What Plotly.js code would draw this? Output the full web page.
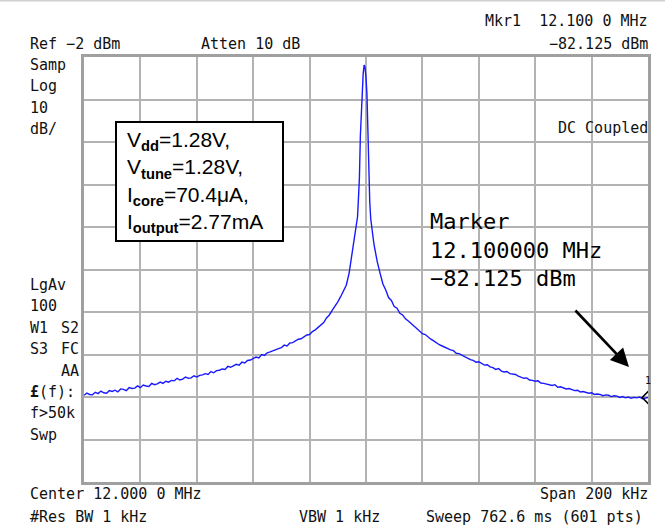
<!DOCTYPE html>
<html>
<head>
<meta charset="utf-8">
<script src="https://cdn.plot.ly/plotly-3.0.1.min.js"></script>
<style>html,body{margin:0;padding:0;background:#fff;}#chart{width:665px;height:526px;}</style>
</head>
<body>
<div id="chart"></div>
<script>
// ---- data ----
const centerMHz = 12.0;
const spanKHz = 200;
const refLevelDBm = -2;
const dbPerDiv = 10;

const freqOffsetKHz = [
  -100,-99,-98,-97,-96,-95,-94,-93,-92,-91,
  -90,-89,-88,-87,-86,-85,-84,-83,-82,-81,
  -80,-79,-78,-77,-76,-75,-74,-73,-72,-71,
  -70,-69,-68,-67,-66,-65,-64,-63,-62,-61,
  -60,-59,-58,-57,-56,-55,-54,-53,-52,-51,
  -50,-49,-48,-47,-46,-45,-44,-43,-42,-41,
  -40,-39,-38,-37,-36,-35,-34,-33,-32,-31,
  -30,-29,-28,-27,-26,-25,-24,-23,-22,-21,
  -20,-19,-18,-17,-16,-15,-14,-13,-12,-11,
  -10,-9,-8,-7,-6,-5,-4,
  -3.67,-3.33,-3,-2.67,-2.33,-2,-1.67,-1.33,-1,-0.67,-0.33,0,
  0.33,0.67,1,1.33,1.67,2,2.33,2.67,3,3.33,3.67,4,
  5,6,7,8,9,10,11,12,13,14,
  15,16,17,18,19,20,21,22,23,24,
  25,26,27,28,29,30,31,32,33,34,
  35,36,37,38,39,40,41,42,43,44,
  45,46,47,48,49,50,51,52,53,54,
  55,56,57,58,59,60,61,62,63,64,
  65,66,67,68,69,70,71,72,73,74,
  75,76,77,78,79,80,81,82,83,84,
  85,86,87,88,89,90,91,92,93,94,
  95,96,97,98,99,100
];
const levelDBm = [
  -81.6,-81.1,-81.4,-81.5,-80.9,-81.2,-80.6,-81.0,-81.1,-80.5,
  -80.7,-80.4,-80.8,-80.1,-80.2,-80.5,-79.8,-80.0,-79.9,-79.4,
  -79.8,-79.2,-79.4,-79.5,-78.8,-79.1,-78.9,-78.5,-78.8,-78.3,
  -78.5,-78.1,-78.2,-77.6,-78.0,-77.8,-77.3,-77.6,-77.5,-77.0,
  -77.3,-76.9,-76.8,-76.5,-76.7,-76.0,-76.3,-75.8,-75.7,-75.4,
  -75.5,-74.8,-75.0,-74.6,-74.3,-74.5,-73.8,-74.0,-73.4,-73.3,
  -73.0,-72.6,-72.8,-72.0,-72.2,-71.6,-71.4,-71.1,-70.9,-70.6,
  -70.4,-69.8,-70.0,-69.3,-69.2,-68.8,-68.4,-68.3,-67.8,-67.4,
  -67.3,-66.6,-66.2,-65.7,-65.0,-64.5,-63.4,-62.7,-61.6,-60.7,
  -59.6,-58.4,-57.2,-55.7,-52.9,-48.4,-44.7,
  -43.0,-41.6,-39.6,-35.2,-30.3,-20.6,-14.1,-9.6,-5.9,-3.9,-4.5,-6.9,
  -10.6,-19.2,-30.2,-36.1,-40.0,-42.3,-43.9,-45.3,-46.7,-47.9,-49.1,-50.2,
  -52.9,-55.4,-56.8,-58.6,-59.3,-60.7,-61.1,-62.3,-62.7,-63.6,
  -64.1,-64.8,-65.3,-65.9,-66.4,-67.1,-67.3,-67.9,-68.4,-68.8,
  -69.3,-69.7,-70.0,-70.3,-70.7,-70.9,-71.1,-71.7,-71.8,-72.2,
  -72.6,-72.9,-73.2,-73.4,-73.8,-73.7,-74.2,-74.5,-74.4,-74.9,
  -75.1,-75.5,-75.3,-75.9,-76.1,-76.0,-76.5,-76.6,-76.7,-77.1,
  -77.3,-77.6,-77.5,-78.0,-78.1,-78.3,-78.2,-78.7,-78.8,-79.0,
  -79.1,-79.3,-79.1,-79.7,-79.6,-79.9,-80.1,-80.0,-80.3,-80.5,
  -80.4,-80.8,-80.7,-80.9,-81.1,-81.0,-81.4,-81.3,-81.4,-81.7,
  -81.5,-81.6,-81.9,-81.7,-81.8,-82.1,-81.9,-82.2,-82.0,-82.3,
  -82.1,-82.2,-82.0,-82.4,-82.2,-82.125
];
const markerFreqMHz = [12.1];
const markerLevelDBm = [-82.125];

const leftLabelsTop = ["Samp", "Log", "10", "dB/"];
const leftLabelsBottomL = ["LgAv", "100", "W1", "S3", "", "<b>£</b>(f):", "f>50k", "Swp"];
const leftLabelsBottomR = ["", "", "S2", "FC", "AA", "", "", ""];
const infoLines = ["V<sub><b>dd</b></sub>=1.28V,", "V<sub><b>tune</b></sub>=1.28V,", "I<sub><b>core</b></sub>=70.4μA,", "I<sub><b>output</b></sub>=2.77mA"];
const markerLines = ["Marker", "12.100000 MHz", "\u221282.125 dBm"];

// ---- layout helpers (pixel -> paper) ----
const L = 84, R = 648, T = 57, B = 482;
const px = x => (x - L) / (R - L);
const py = y => (B - y) / (B - T);
const mono = {family: "DejaVu Sans Mono", size: 15, color: "#111"};

const ann = [];
function lab(text, x, y, anchor, font) {
  if (!text) return;
  ann.push({text, x: px(x), y: py(y), xref: "paper", yref: "paper", showarrow: false,
            xanchor: anchor || "left", yanchor: "middle", font: font || mono, align: "left"});
}
lab("Mkr1  12.100 0 MHz", 650, 21, "right");
lab("Ref \u22122 dBm", 28, 44);
lab("Atten 10 dB", 199, 44);
lab("\u221282.125 dBm", 650, 44, "right");
leftLabelsTop.forEach((t, i) => lab(t, 28, 65 + i * 21.4));
leftLabelsBottomL.forEach((t, i) => lab(t, 28, 285 + i * 21.4));
leftLabelsBottomR.forEach((t, i) => lab(t, 81, 285 + i * 21.4, "right"));
lab("DC Coupled", 650, 128, "right");
lab("Center 12.000 0 MHz", 28, 494);
lab("Span 200 kHz", 650, 494, "right");
lab("#Res BW 1 kHz", 28, 517);
lab("VBW 1 kHz", 297, 517);
lab("Sweep 762.6 ms (601 pts)", 645, 517, "right");
lab("1", 648, 380, "center", {family: "DejaVu Sans Mono", size: 10, color: "#111"});

const bigFont = {family: "DejaVu Sans Mono", size: 22, color: "#000"};
markerLines.forEach((t, i) => lab(t, 428, 222 + i * 28, "left", bigFont));

ann.push({text: infoLines.join("<br>"), x: px(125), y: py(126), xref: "paper", yref: "paper",
          showarrow: false, xanchor: "left", yanchor: "top", align: "left",
          font: {family: "Liberation Sans", size: 21, color: "#000"}});

ann.push({text: "", x: px(629), y: py(367), xref: "paper", yref: "paper", showarrow: true,
          ax: -55, ay: -58, arrowhead: 2, arrowsize: 1.4, arrowwidth: 2.6, arrowcolor: "#000"});

const traces = [
  {x: freqOffsetKHz.map(f => centerMHz + f / 1000), y: levelDBm, mode: "lines", type: "scatter",
   line: {color: "rgb(25,25,255)", width: 1.4}, hoverinfo: "skip"},
  {x: markerFreqMHz, y: markerLevelDBm, mode: "markers", type: "scatter",
   marker: {symbol: "diamond-open", size: 9, color: "#000", line: {width: 1.6, color: "#000"}}}
];

const layout = {
  width: 665, height: 526,
  margin: {l: L, r: 665 - R, t: T, b: 526 - B, pad: 0},
  paper_bgcolor: "#fff", plot_bgcolor: "#fff",
  showlegend: false,
  xaxis: {range: [centerMHz - spanKHz / 2000, centerMHz + spanKHz / 2000], tick0: centerMHz - spanKHz / 2000, dtick: spanKHz / 10000,
          showticklabels: false, ticks: "", showgrid: true, gridcolor: "#b3b3b3", gridwidth: 2,
          zeroline: false, showline: true, mirror: true, linecolor: "#a0a0a0", linewidth: 3, fixedrange: true},
  yaxis: {range: [refLevelDBm - 10 * dbPerDiv, refLevelDBm], tick0: refLevelDBm, dtick: dbPerDiv,
          showticklabels: false, ticks: "", showgrid: true, gridcolor: "#b3b3b3", gridwidth: 2,
          zeroline: false, showline: true, mirror: true, linecolor: "#a0a0a0", linewidth: 3, fixedrange: true},
  shapes: [
    {type: "rect", xref: "paper", yref: "paper", x0: px(116), x1: px(283), y0: py(241), y1: py(122),
     line: {color: "#000", width: 2}, fillcolor: "#fff", layer: "above"},
    {type: "line", xref: "paper", yref: "paper", x0: px(0), x1: px(665), y0: py(0.5), y1: py(0.5),
     line: {color: "#d0d0d0", width: 2}}
  ],
  annotations: ann
};

Plotly.newPlot("chart", traces, layout, {displayModeBar: false, staticPlot: true});
</script>
</body>
</html>
